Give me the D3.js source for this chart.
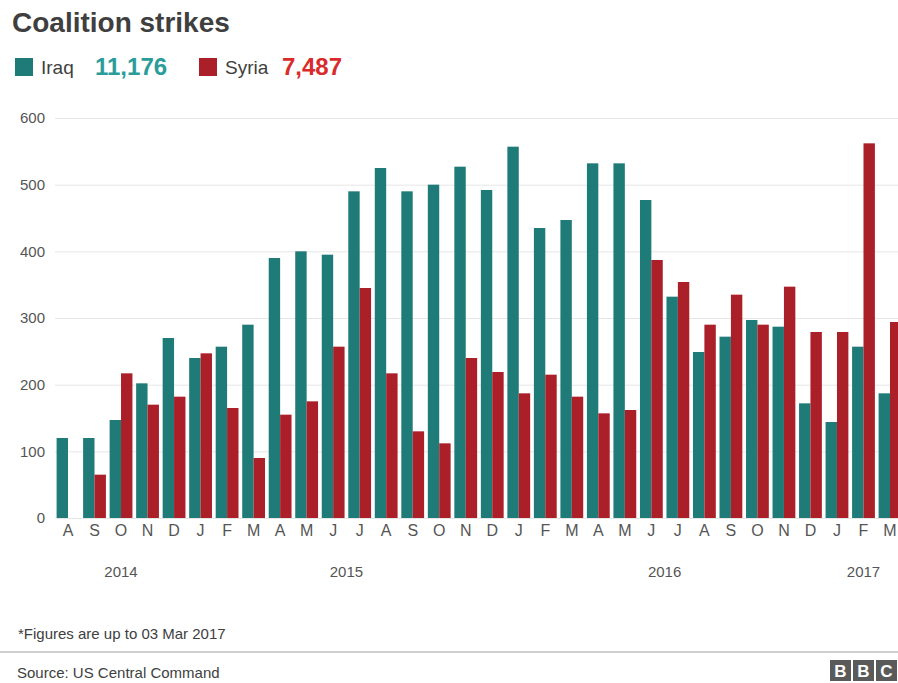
<!DOCTYPE html>
<html>
<head>
<meta charset="utf-8">
<script src="https://cdn.jsdelivr.net/npm/d3@7"></script>
<style>
  body { margin: 0; background: #fff; }
  svg { font-family: "Liberation Sans", Arial, sans-serif; }
</style>
</head>
<body>
<svg id="chart" width="898" height="683"></svg>
<script>
// monthly coalition strikes, Aug 2014 - Mar 2017
var months = ['A','S','O','N','D','J','F','M','A','M','J','J','A','S','O','N','D',
              'J','F','M','A','M','J','J','A','S','O','N','D','J','F','M']
var iraq = [120,120,147,202,270, 240,257,290,390,400,395,490,525,490,500,527,492,
            557,435,447,532,532,477,332,249,272,297,287,172, 144,257,187]
var syria = [0,65,217,170,182, 247,165,90,155,175,257,345,217,130,112,240,219,
             187,215,182,157,162,387,354,290,335,290,347,279, 279,562,294]
var years = [
  { label: '2014', from: 0, to: 4 },
  { label: '2015', from: 5, to: 16 },
  { label: '2016', from: 17, to: 28 },
  { label: '2017', from: 29, to: 31 }
]
var yTicks = [0,100,200,300,400,500,600]

var svg = d3.select('#chart')
var teal = '#1f7b78'
var red = '#ab1f29'

var x0 = d3.scaleBand()
  .domain(d3.range(months.length))
  .range([55, 903])
  .paddingInner(0.14)
  .paddingOuter(0.06)

var x1 = d3.scaleBand()
  .domain(['iraq', 'syria'])
  .range([0, x0.bandwidth()])

var y = d3.scaleLinear()
  .domain([0, 600])
  .range([518, 118])

// title + legend
svg.append('text')
  .attr('x', 12).attr('y', 32)
  .style('font-size', '28px').style('font-weight', 'bold')
  .style('fill', '#3f3f3f')
  .text('Coalition strikes')

var legend = svg.append('g').attr('transform', 'translate(15,58)')
legend.append('rect').attr('x', 0).attr('y', 0).attr('width', 18).attr('height', 18).style('fill', teal)
legend.append('text').attr('x', 26).attr('y', 16).style('font-size', '19px').style('fill', '#404040').text('Iraq')
legend.append('text').attr('x', 80).attr('y', 17).style('font-size', '24px').style('font-weight', 'bold')
  .style('fill', '#2a9d9a').text('11,176')
legend.append('rect').attr('x', 184).attr('y', 0).attr('width', 18).attr('height', 18).style('fill', red)
legend.append('text').attr('x', 210).attr('y', 16).style('font-size', '19px').style('fill', '#404040').text('Syria')
legend.append('text').attr('x', 267).attr('y', 17).style('font-size', '24px').style('font-weight', 'bold')
  .style('fill', '#d92b2b').text('7,487')

// grid + y labels
var yAxis = d3.axisLeft(y).tickValues(yTicks).tickSize(-843).tickPadding(10)
var gy = svg.append('g').attr('transform', 'translate(55,0)').call(yAxis)
gy.select('.domain').remove()
gy.selectAll('.tick line').style('stroke', '#e6e6e6')
gy.selectAll('.tick text').style('font-size', '15px').style('fill', '#555')

// bars
var groups = svg.append('g').selectAll('g')
  .data(months)
  .join('g')
  .attr('transform', function (d, i) { return 'translate(' + x0(i) + ',0)' })

groups.append('rect')
  .attr('x', x1('iraq'))
  .attr('width', x1.bandwidth())
  .attr('y', function (d, i) { return y(iraq[i]) })
  .attr('height', function (d, i) { return y(0) - y(iraq[i]) })
  .style('fill', teal)

groups.append('rect')
  .attr('x', x1('syria'))
  .attr('width', x1.bandwidth())
  .attr('y', function (d, i) { return y(syria[i]) })
  .attr('height', function (d, i) { return y(0) - y(syria[i]) })
  .style('fill', red)

// month labels
var xAxis = d3.axisBottom(x0).tickFormat(function (i) { return months[i] }).tickSize(0).tickPadding(7)
var gx = svg.append('g').attr('transform', 'translate(0,518)').call(xAxis)
gx.select('.domain').remove()
gx.selectAll('.tick text').style('font-size', '16px').style('fill', '#555')

// year labels
svg.append('g').selectAll('text')
  .data(years)
  .join('text')
  .attr('x', function (d) { return (x0(d.from) + x0(d.to) + x0.bandwidth()) / 2 })
  .attr('y', 577)
  .attr('text-anchor', 'middle')
  .style('font-size', '15px').style('fill', '#555')
  .text(function (d) { return d.label })

// footnote, source, logo
svg.append('text').attr('x', 18).attr('y', 639)
  .style('font-size', '15px').style('fill', '#404040')
  .text('*Figures are up to 03 Mar 2017')

svg.append('rect').attr('x', 0).attr('y', 651).attr('width', 898).attr('height', 2).style('fill', '#d0d0d0')

svg.append('text').attr('x', 17).attr('y', 678)
  .style('font-size', '15px').style('fill', '#404040')
  .text('Source: US Central Command')

var logo = svg.append('g').attr('transform', 'translate(830,660)')
;['B', 'B', 'C'].forEach(function (l, i) {
  logo.append('rect').attr('x', i * 23).attr('y', 0).attr('width', 21).attr('height', 21).style('fill', '#5a5a5a')
  logo.append('text').attr('x', i * 23 + 10.5).attr('y', 17).attr('text-anchor', 'middle')
    .style('font-size', '17px').style('font-weight', 'bold').style('fill', '#fff').text(l)
})
</script>
</body>
</html>
